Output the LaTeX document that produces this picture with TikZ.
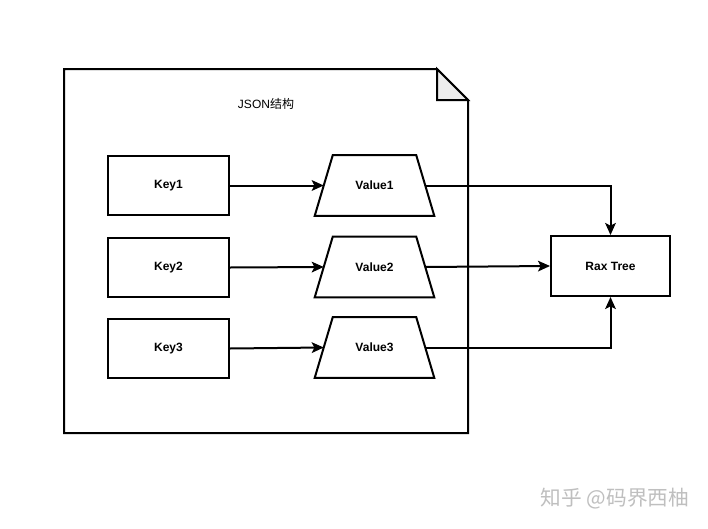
\documentclass[tikz,border=0pt]{standalone}
\usepackage{fontspec}
\setmainfont{Liberation Sans}
\newfontfamily\cjk{Noto Sans CJK SC}
\usetikzlibrary{arrows.meta,calc}
\tikzset{
  px/.style={x=0.75pt,y=-0.75pt},
  line/.style={line width=1.5pt},
  conn/.style={line width=1.5pt,-{Stealth[length=9pt,width=8pt,inset=2pt]}},
  keybox/.style={draw,line width=1.5pt,minimum width=90.75pt,minimum height=44.25pt,inner sep=0pt,font=\fontsize{9}{11}\selectfont\bfseries},
  valcore/.style={minimum width=75.75pt,minimum height=45pt,inner sep=0pt,font=\fontsize{9}{11}\selectfont\bfseries},
  trap/.style={draw,line width=1.5pt,line join=miter}
}
\begin{document}
\begin{tikzpicture}[px]
\useasboundingbox[fill=white] (0,0) rectangle (708,529);
% document shape
\draw[line,line join=miter] (64,69) -- (437,69) -- (468,100) -- (468,433) -- (64,433) -- cycle;
\filldraw[line,fill=black!7,line join=miter] (437,69) -- (468,100) -- (437,100) -- cycle;
\node[font=\fontsize{9}{11}\selectfont] (title) at (266,104) {JSON\cjk 结构};
% keys
\node[keybox] (k1) at (168.5,185.5) {Key1};
\node[keybox] (k2) at (168.5,267.5) {Key2};
\node[keybox] (k3) at (168.5,348.5) {Key3};
% values
\node[valcore] (v1) at (374.5,185.5) {Value1};
\node[valcore] (v2) at (374.5,267) {Value2};
\node[valcore] (v3) at (374.5,347.5) {Value3};
\foreach \v in {v1,v2,v3}{
  \draw[trap] ($(\v.south west)+(-9,0)$) -- ($(\v.north west)+(9,0)$) -- ($(\v.north east)+(-9,0)$) -- ($(\v.south east)+(9,0)$) -- cycle;
}
% rax tree
\node[keybox,minimum width=89.25pt,minimum height=45pt] (rax) at (610.5,266) {Rax Tree};
% connectors
\draw[conn] (k1.east) -- (v1.west);
\draw[conn] (k2.east) -- (v2.west);
\draw[conn] (k3.east) -- (v3.west);
\draw[conn] (v1.east) -| (rax.north);
\draw[conn] (v2.east) -- (rax.west);
\draw[conn] (v3.east) -| (rax.south);
% watermark
\node[font=\cjk\fontsize{15.5}{17}\selectfont,text=black!25] (wm) at (615,499) {知乎 @码界西柚};
\end{tikzpicture}
\end{document}
